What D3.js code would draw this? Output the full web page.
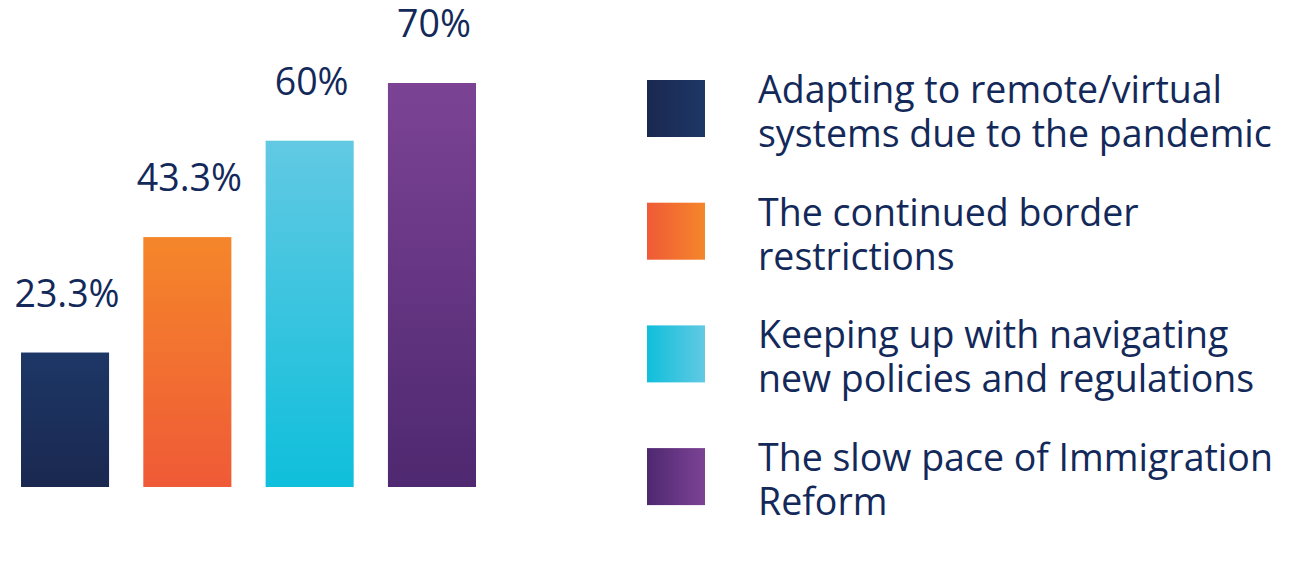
<!DOCTYPE html>
<html>
<head>
<meta charset="utf-8">
<script src="https://cdn.jsdelivr.net/npm/d3@7"></script>
<style>
  body { margin: 0; background: #fff; }
  text { font-family: "Open Sans", Lato, sans-serif; fill: #13295a; }
</style>
</head>
<body>
<div id="chart"></div>
<script>
const categories = [
  "Adapting to remote/virtual systems due to the pandemic",
  "The continued border restrictions",
  "Keeping up with navigating new policies and regulations",
  "The slow pace of Immigration Reform"
];
const values = [23.3, 43.3, 60, 70];
const valueLabels = ["23.3%", "43.3%", "60%", "70%"];
const legendLines = [
  ["Adapting to remote/virtual", "systems due to the pandemic"],
  ["The continued border", "restrictions"],
  ["Keeping up with navigating", "new policies and regulations"],
  ["The slow pace of Immigration", "Reform"]
];
// light / dark ends of each gradient
const lightColors = ["#1d3766", "#f5862a", "#62c9e3", "#7c4395"];
const darkColors = ["#1a2850", "#ef5a37", "#0fbfdb", "#4e2870"];

const W = 1309, H = 561;
const svg = d3.select("#chart").append("svg")
  .attr("width", W)
  .attr("height", H);

const defs = svg.append("defs");
categories.forEach((c, i) => {
  const v = defs.append("linearGradient")
    .attr("id", "bar" + i)
    .attr("x1", 0).attr("y1", 0).attr("x2", 0).attr("y2", 1);
  v.append("stop").attr("offset", "0%").attr("stop-color", lightColors[i]);
  v.append("stop").attr("offset", "100%").attr("stop-color", darkColors[i]);

  const h = defs.append("linearGradient")
    .attr("id", "sw" + i)
    .attr("x1", 0).attr("y1", 0).attr("x2", 1).attr("y2", 0);
  h.append("stop").attr("offset", "0%").attr("stop-color", darkColors[i]);
  h.append("stop").attr("offset", "100%").attr("stop-color", lightColors[i]);
});

const x = d3.scaleBand()
  .domain(categories)
  .range([21, 476])
  .paddingInner(0.28)
  .paddingOuter(0);
const y = d3.scaleLinear().domain([0, 70]).range([487, 83]);

svg.selectAll(".bar")
  .data(categories)
  .enter().append("rect")
  .attr("class", "bar")
  .attr("x", d => x(d))
  .attr("width", x.bandwidth())
  .attr("y", (d, i) => y(values[i]))
  .attr("height", (d, i) => y(0) - y(values[i]))
  .attr("fill", (d, i) => `url(#bar${i})`);

svg.selectAll(".val")
  .data(categories)
  .enter().append("text")
  .attr("class", "val")
  .attr("x", d => x(d) + x.bandwidth() / 2 + 2)
  .attr("y", (d, i) => y(values[i]) - 46)
  .attr("text-anchor", "middle")
  .style("font-size", "37.5px")
  .text((d, i) => valueLabels[i]);

const legend = svg.append("g").attr("transform", "translate(647,103)");
const item = legend.selectAll(".item")
  .data(categories)
  .enter().append("g")
  .attr("class", "item")
  .attr("transform", (d, i) => `translate(0,${i * 122.7})`);

item.append("rect")
  .attr("x", 0)
  .attr("y", -23)
  .attr("width", 58)
  .attr("height", 57)
  .attr("fill", (d, i) => `url(#sw${i})`);

item.each(function(d, i) {
  const t = d3.select(this).append("text")
    .attr("x", 111)
    .style("font-size", "37.5px");
  legendLines[i].forEach((line, j) => {
    t.append("tspan").attr("x", 111).attr("y", j * 44).text(line);
  });
});
</script>
</body>
</html>
